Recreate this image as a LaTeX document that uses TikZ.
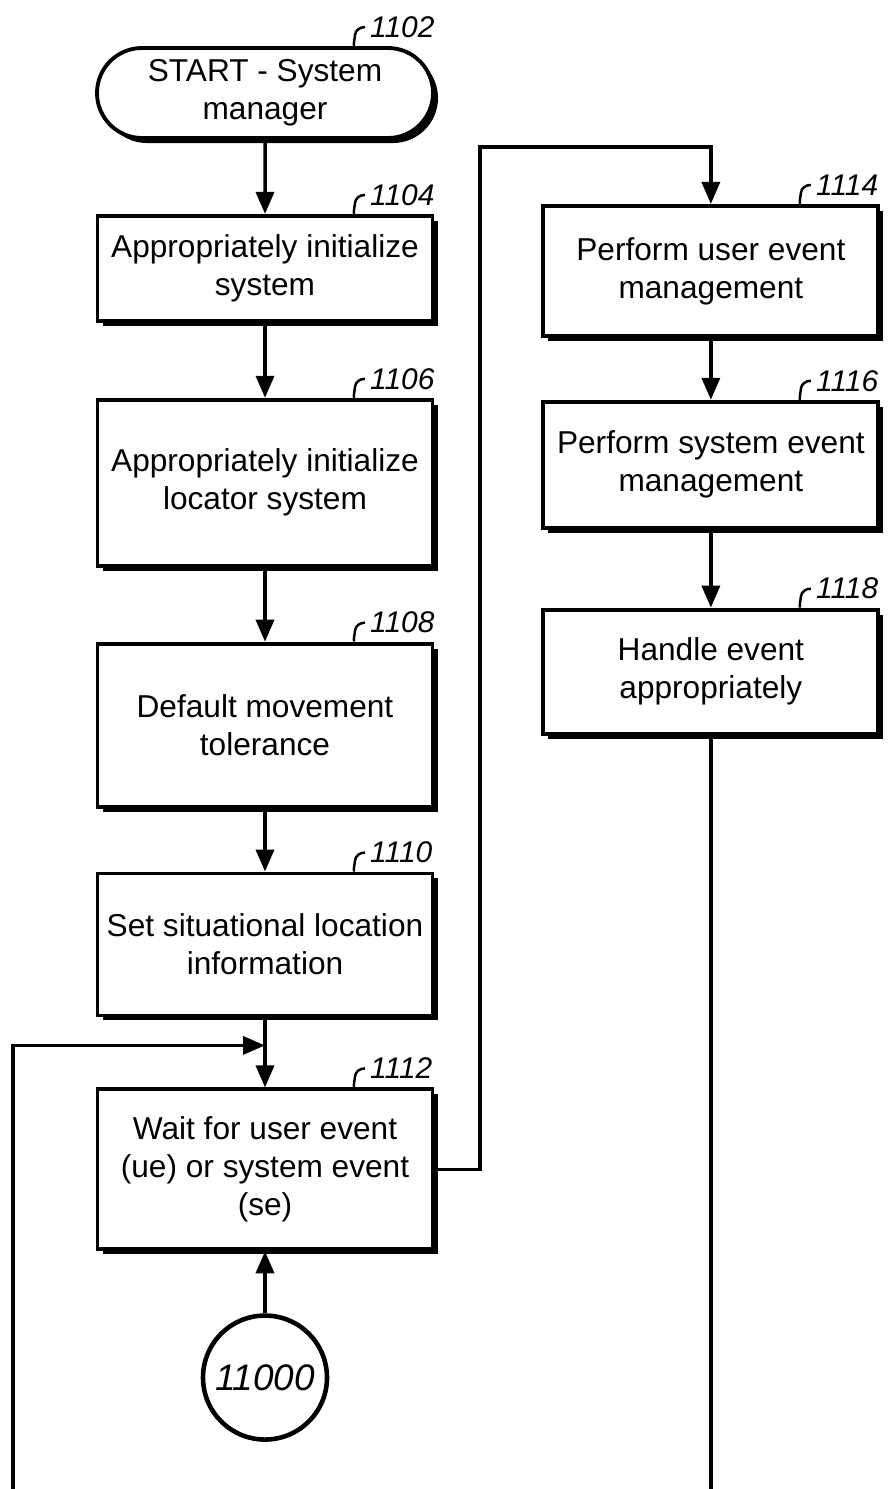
\documentclass[tikz,border=0pt]{standalone}
\usepackage{fontspec}
\setmainfont{Liberation Sans}
\usepackage{tikz}
\usetikzlibrary{positioning,shapes,arrows.meta,shadows,calc}
\tikzstyle{proc}=[%
      rectangle, draw=black, line width=2.2pt, fill=white,
      drop shadow={shadow xshift=0.1cm, shadow yshift=-0.1cm, fill=black, opacity=1},
      minimum width=6.7cm, inner sep=0pt, align=center,
      font=\fontsize{18}{21.6}\selectfont
]
\tikzstyle{term}=[%
      proc, rounded rectangle, minimum width=6.72cm, minimum height=1.8cm
]
\tikzstyle{conn}=[%
      circle, draw=black, line width=2.6pt, fill=white, minimum size=2.48cm,
      inner sep=0pt, font=\fontsize{21}{24}\selectfont\itshape
]
\tikzstyle{refno}=[%
      anchor=west, inner sep=0pt, xshift=0.08cm, font=\fontsize{17}{19}\selectfont\itshape
]
\tikzstyle{flow}=[line width=2pt, -{Triangle[length=0.44cm,width=0.36cm]}]
\tikzstyle{line}=[line width=2pt]
% reference number with its little hook
\newcommand{\refcurl}[2]{%
  \draw[line width=1.4pt] ($(#1.north)+(1.78,0)$) to[out=95,in=-95] ++(0.02,0.22)
        to[out=85,in=180] ++(0.2,0.16) node[refno] {#2};
}

\begin{document}
\begin{tikzpicture}
    \useasboundingbox (0,0) rectangle (17.8,-29.78);

    % left column
    \node[term]                     (start)   at (5.30,-1.86)          {START - System\\manager};
    \node[proc, minimum height=2.1cm]  (init)    [below=1.48cm of start]  {Appropriately initialize\\system};
    \node[proc, minimum height=3.32cm] (locinit) [below=1.5cm of init]    {Appropriately initialize\\locator system};
    \node[proc, minimum height=3.26cm] (tol)     [below=1.48cm of locinit]{Default movement\\tolerance};
    \node[proc, minimum height=2.84cm] (situ)    [below=1.26cm of tol]    {Set situational location\\information};
    \node[proc, minimum height=3.2cm]  (wait)    [below=1.4cm of situ]    {Wait for user event\\(ue) or system event\\(se)};
    \node[conn]                     (entry)   [below=1.24cm of wait]   {11000};

    % right column
    \node[proc, minimum height=2.6cm]  (userev)  [right=2.14cm of init, yshift=-0.05cm] {Perform user event\\management};
    \node[proc, minimum height=2.52cm] (sysev)   [below=1.24cm of userev] {Perform system event\\management};
    \node[proc, minimum height=2.48cm] (handle)  [below=1.56cm of sysev]  {Handle event\\appropriately};

    \refcurl{start}{1102}
    \refcurl{init}{1104}
    \refcurl{locinit}{1106}
    \refcurl{tol}{1108}
    \refcurl{situ}{1110}
    \refcurl{wait}{1112}
    \refcurl{userev}{1114}
    \refcurl{sysev}{1116}
    \refcurl{handle}{1118}

    \coordinate (jog)   at (9.6,-2.94);
    \coordinate (lbot)  at (0.26,-29.78);
    \coordinate (merge) at ($(situ.south)!0.4!(wait.north)$);

    \draw[flow] (start) -- (init);
    \draw[flow] (init) -- (locinit);
    \draw[flow] (locinit) -- (tol);
    \draw[flow] (tol) -- (situ);
    \draw[flow] (situ) -- (wait);
    \draw[flow] (entry) -- (wait);
    \draw[flow] (wait.east) -| (jog) -| (userev.north);
    \draw[flow] (userev) -- (sysev);
    \draw[flow] (sysev) -- (handle);
    \draw[line] (handle.south) -- (handle.south |- lbot);
    \draw[flow] (lbot) |- (merge);

\end{tikzpicture}
\end{document}
